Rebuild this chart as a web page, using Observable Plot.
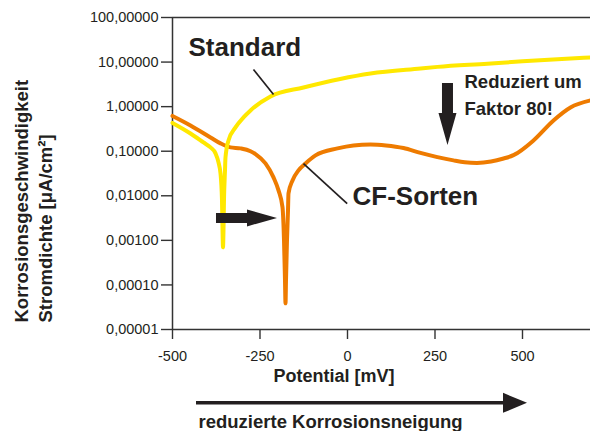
<!DOCTYPE html>
<html>
<head>
<meta charset="utf-8">
<script src="https://cdn.jsdelivr.net/npm/d3@7"></script>
<script src="https://cdn.jsdelivr.net/npm/@observablehq/plot@0.6"></script>
<style>
  html, body { margin: 0; padding: 0; background: #fff; }
</style>
</head>
<body>
<div id="chart"></div>
<script>
// Potential in mV, current density in µA/cm²
const potentialStd = [-500, -448.6, -411.4, -391.4, -377.1, -368.6, -362.9, -358.6, -357.1, -355.7, -354.3, -352.9, -350, -348.6, -340, -320, -297.1, -277.1, -220, -125.7, 65.7, 208.6, 257, 400, 500, 600, 694.3];
const currentStd   = [0.431, 0.25, 0.157, 0.1217, 0.0893, 0.0561, 0.0318, 0.0079, 0.00168, 0.000697, 0.00168, 0.0079, 0.0372, 0.0726, 0.1746, 0.342, 0.573, 0.822, 1.69, 2.69, 5.55, 7.19, 7.8, 9.2, 10.4, 11.6, 12.7];

const potentialCF = [-500, -448.6, -391.4, -362.9, -334.3, -305.7, -277.1, -262.9, -234.3, -211.4, -197.1, -185.7, -181.4, -178.6, -177.1, -175.7, -172.9, -170.0, -168.6, -157.1, -140, -120, -91.4, -28.6, 17, 65.7, 110, 160, 208.6, 257, 302.9, 335, 370, 410, 446, 474.3, 531.4, 588.6, 637.1, 694.3];
const currentCF   = [0.619, 0.379, 0.204, 0.150, 0.1217, 0.1156, 0.100, 0.086, 0.0532, 0.0259, 0.0132, 0.0055, 0.001, 0.000127, 0.0000386, 0.000127, 0.001, 0.0047, 0.0113, 0.0221, 0.0372, 0.0532, 0.0805, 0.1156, 0.135, 0.142, 0.135, 0.118, 0.0916, 0.0738, 0.0622, 0.0565, 0.0545, 0.0585, 0.0685, 0.0815, 0.1746, 0.491, 0.96, 1.38];

const xTicks = [-500, -250, 0, 250, 500];
const xTickLabels = ["-500", "-250", "0", "250", "500"];
const yTicks = [1e-5, 1e-4, 1e-3, 1e-2, 1e-1, 1, 10, 100];
const yTickLabels = ["0,00001", "0,00010", "0,00100", "0,01000", "0,10000", "1,00000", "10,00000", "100,00000"];

const seriesNames = ["Standard", "CF-Sorten"];

// Annotations (data coordinates)
const bigLabels = [
  {text: "Standard",  x: -454.3, y: 13.4},
  {text: "CF-Sorten", x: 14.3,   y: 0.0061}
];
const noteLabels = [
  {text: "Reduziert um", x: 334.3, y: 2.56},
  {text: "Faktor 80!",   x: 334.3, y: 0.635}
];
const leaders = [
  {x1: -268.6, y1: 6.8,   x2: -211.4, y2: 1.88},
  {x1: -125.7, y1: 0.053, x2: -0.9,   y2: 0.00665}
];
const arrows = [
  {x1: -374.3, y1: 0.00311, x2: -200,  y2: 0.00311, w: 10, hw: 17, hl: 30},
  {x1: 287.1,  y1: 3.31,    x2: 287.1, y2: 0.135,   w: 11, hw: 18, hl: 32},
  {x1: -431.4, y1: 2.21e-7, x2: 514.3, y2: 2.21e-7, w: 3.5, hw: 20, hl: 24}
];
const xTitle = {text: "Potential [mV]", x: -38.6, y: 6.55e-7};
const bottomNote = {text: "reduzierte Korrosionsneigung", x: -425.7, y: 6.1e-8};
const yTitleLines = ["Korrosionsgeschwindigkeit", "Stromdichte [μA/cm²]"];

const std = potentialStd.map((x, i) => ({x, y: currentStd[i]}));
const cf = potentialCF.map((x, i) => ({x, y: currentCF[i]}));

const ink = "#231f20";
const font = "'Liberation Sans', Arial, Helvetica, sans-serif";

function arrowMark(list) {
  return (index, scales) => {
    const g = d3.create("svg:g");
    for (const a of list) {
      const x1 = scales.x(a.x1), y1 = scales.y(a.y1);
      const x2 = scales.x(a.x2), y2 = scales.y(a.y2);
      const len = Math.hypot(x2 - x1, y2 - y1);
      const ux = (x2 - x1) / len, uy = (y2 - y1) / len;
      const nx = -uy, ny = ux;
      const bx = x2 - ux * a.hl, by = y2 - uy * a.hl;
      const pts = [
        [x1 + nx * a.w / 2, y1 + ny * a.w / 2],
        [bx + nx * a.w / 2, by + ny * a.w / 2],
        [bx + nx * a.hw / 2, by + ny * a.hw / 2],
        [x2, y2],
        [bx - nx * a.hw / 2, by - ny * a.hw / 2],
        [bx - nx * a.w / 2, by - ny * a.w / 2],
        [x1 - nx * a.w / 2, y1 - ny * a.w / 2]
      ];
      g.append("path").attr("d", "M" + pts.map(p => p.join(",")).join("L") + "Z").attr("fill", ink);
    }
    return g.node();
  };
}

const chart = Plot.plot({
  width: 590,
  height: 431,
  marginLeft: 172,
  marginRight: 0,
  marginTop: 17,
  marginBottom: 102,
  x: {domain: [-500, 694.3]},
  y: {type: "log", domain: [1e-5, 100]},
  style: {fontFamily: font, fontSize: "14.5px", color: ink, background: "#fff", overflow: "visible"},
  marks: [
    Plot.axisX({ticks: xTicks, tickSize: 10, tickPadding: 11, tickFormat: d => xTickLabels[xTicks.indexOf(d)], label: null, stroke: "#333", strokeWidth: 1.4, fontSize: 14.5}),
    Plot.axisY({ticks: yTicks, tickSize: 11, tickPadding: 3, tickFormat: d => yTickLabels[yTicks.indexOf(d)], label: null, stroke: "#333", strokeWidth: 1.4, fontSize: 14.5}),
    Plot.ruleX([-500], {y1: 1e-5, y2: 100, stroke: "#333", strokeWidth: 1.5}),
    Plot.ruleY([1e-5, 100], {stroke: "#333", strokeWidth: 1.5}),
    Plot.line(cf, {x: "x", y: "y", stroke: "#EE7B00", strokeWidth: 4, curve: "monotone-x", title: () => seriesNames[1]}),
    Plot.line(std, {x: "x", y: "y", stroke: "#FFE800", strokeWidth: 4, curve: "monotone-x", title: () => seriesNames[0]}),
    Plot.link(leaders, {x1: "x1", y1: "y1", x2: "x2", y2: "y2", stroke: ink, strokeWidth: 1.7}),
    arrowMark(arrows),
    Plot.text(bigLabels, {x: "x", y: "y", text: "text", textAnchor: "start", lineAnchor: "bottom", fontSize: 26, fontWeight: "bold", fill: ink}),
    Plot.text(noteLabels, {x: "x", y: "y", text: "text", textAnchor: "start", lineAnchor: "bottom", fontSize: 18.5, fontWeight: "bold", fill: ink}),
    Plot.text([xTitle], {x: "x", y: "y", text: "text", textAnchor: "middle", lineAnchor: "bottom", fontSize: 18, fontWeight: "bold", fill: ink}),
    Plot.text([bottomNote], {x: "x", y: "y", text: "text", textAnchor: "start", lineAnchor: "bottom", fontSize: 18.5, fontWeight: "bold", fill: ink}),
    Plot.text([yTitleLines[0]], {text: d => d, frameAnchor: "bottom-left", rotate: -90, textAnchor: "start", lineAnchor: "bottom", dx: -145, dy: -7, fontSize: 18.5, fontWeight: "bold", fill: ink}),
    Plot.text([yTitleLines[1]], {text: d => d, frameAnchor: "bottom-left", rotate: -90, textAnchor: "start", lineAnchor: "bottom", dx: -121, dy: -7, fontSize: 18.5, fontWeight: "bold", fill: ink})
  ]
});
document.getElementById("chart").appendChild(chart);
</script>
</body>
</html>
